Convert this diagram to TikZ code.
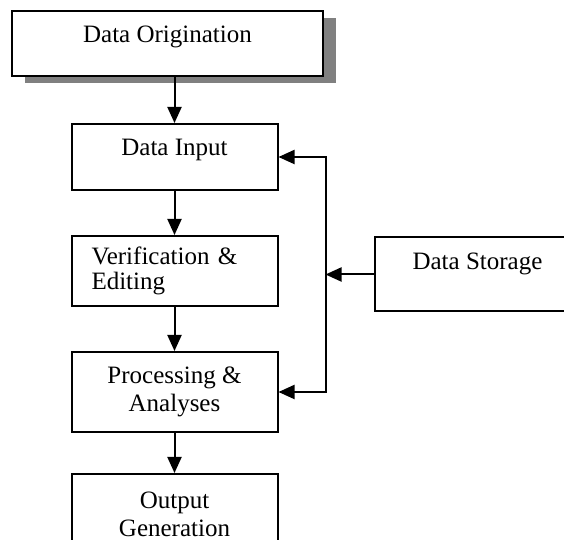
\documentclass[tikz,border=0pt]{standalone}
\usepackage{fontspec}
\setmainfont{Liberation Serif}
\usetikzlibrary{positioning,shadows,arrows.meta}

\begin{document}
\begin{tikzpicture}[x=1pt,y=1pt,node distance=22pt,line width=1pt,
	>={Triangle[length=8pt,width=7pt]},
	stage/.style={rectangle,draw,fill=white,minimum width=103pt,inner sep=0pt,font=\fontsize{12.5pt}{14pt}\selectfont},
	topline/.style={text height=16pt,text depth=#1},
	twoline/.style={minimum height=#1,align=center}]
	\useasboundingbox (0,0) rectangle (282,-270);
	\node[stage,topline=16.5pt,minimum width=155.5pt,
		drop shadow={shadow xshift=6.25pt,shadow yshift=-3.5pt,fill=black!50,opacity=1}] (orig) at (83.75,-21.75) {Data Origination};
	\node[stage,topline=17pt] (input) [below=23pt of orig,xshift=3.5pt] {Data Input};
	\node[stage,minimum height=35pt,text width=83pt,inner xsep=10pt,align=left,
		font=\fontsize{12.5pt}{12.5pt}\selectfont] (verif) [below=of input] {Verification \&\\Editing};
	\node[stage,twoline=40pt] (proc) [below=of verif] {Processing \&\\Analyses};
	\node[stage,twoline=40pt] (output) [below=20pt of proc] {Output\\Generation};
	\node[stage,topline=21pt] (storage) [right=47.5pt of verif,yshift=-1.75pt] {Data Storage};
	\coordinate[left=24pt of storage.west] (bus);
	\draw[->] (orig.south -| input) -- (input);
	\draw[->] (input) -- (verif);
	\draw[->] (verif) -- (proc);
	\draw[->] (proc) -- (output);
	\draw[->] (storage) -- (bus);
	\draw[<->] (input.east) -| (bus) |- (proc.east);
\end{tikzpicture}
\end{document}
